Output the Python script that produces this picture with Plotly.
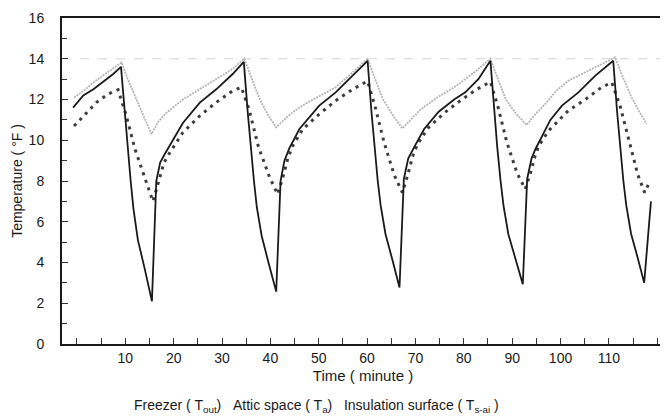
import plotly.graph_objects as go

# ---- data ----
series_names = ["Freezer ( T<sub>out</sub>)", "Attic space ( T<sub>a</sub>)", "Insulation surface ( T<sub>s-ai</sub> )"]

freezer_t = [-0.8, 0.5, 1.3, 3.4, 5.4, 7.5, 9.1,
             9.9, 10.5, 11.1, 11.7, 12.6, 14.0, 15.5,
             16.4, 17.2, 18.1, 19.9, 21.9, 25.4, 28.8, 32.2, 34.5,
             35.3, 35.9, 36.6, 37.2, 38.2, 39.6, 41.2,
             42.1, 42.9, 43.9, 46.0, 50.1, 53.5, 57.0, 60.1,
             60.9, 61.5, 62.2, 62.8, 63.8, 65.2, 66.7,
             67.6, 68.5, 69.6, 71.8, 74.8, 78.0, 80.3, 83.0, 85.5,
             86.3, 86.9, 87.6, 88.2, 89.2, 90.6, 92.2,
             93.1, 94.0, 94.8, 95.8, 97.9, 100.3, 103.7, 107.2, 110.9,
             111.7, 112.3, 113.0, 113.6, 114.6, 116.0, 117.3,
             118.0, 118.7]
freezer_v = [11.6, 12.0, 12.2, 12.5, 12.85, 13.25, 13.6,
             11.3, 9.6, 8.0, 6.6, 5.1, 3.7, 2.1,
             8.0, 8.9, 9.3, 10.05, 10.85, 11.85, 12.5, 13.25, 13.85,
             11.4, 9.7, 8.0, 6.7, 5.3, 4.0, 2.57,
             8.0, 9.0, 9.6, 10.55, 11.7, 12.35, 13.17, 13.9,
             11.4, 9.7, 8.0, 6.8, 5.4, 4.16, 2.77,
             8.1, 9.1, 9.6, 10.55, 11.4, 12.0, 12.35, 13.0, 13.9,
             11.4, 9.7, 8.0, 6.8, 5.4, 4.2, 2.93,
             8.1, 9.1, 9.56, 10.05, 11.0, 11.7, 12.35, 13.17, 13.9,
             11.4, 9.7, 8.0, 6.8, 5.4, 4.2, 3.0,
             5.0, 7.0]

attic_t = [-0.6, 1.65, 4.05, 6.45, 8.5,
           10.2, 12.0, 14.4, 15.7,
           16.8, 18.0, 19.2, 21.9, 25.4, 28.8, 32.2, 34.0,
           35.6, 37.5, 39.8, 41.5,
           42.6, 43.6, 44.6, 46.7, 50.1, 53.5, 57.0, 60.1,
           61.6, 63.5, 65.6, 67.3,
           68.4, 69.4, 70.4, 72.6, 76.0, 79.3, 82.7, 85.5,
           87.0, 88.9, 91.0, 92.7,
           93.8, 94.7, 95.5, 97.5, 101.6, 105.1, 108.5, 110.6,
           112.3, 114.2, 116.0, 117.4,
           118.5]
attic_v = [10.7, 11.28, 11.86, 12.27, 12.48,
           11.2, 9.56, 7.9, 7.0,
           7.9, 8.9, 9.4, 10.38, 11.2, 11.86, 12.43, 12.6,
           11.5, 9.7, 8.2, 7.35,
           8.2, 9.1, 9.72, 10.55, 11.28, 11.94, 12.5, 12.9,
           11.7, 9.9, 8.3, 7.43,
           8.3, 9.2, 9.8, 10.6, 11.35, 11.95, 12.5, 12.87,
           11.7, 9.9, 8.4, 7.6,
           8.4, 9.2, 9.72, 10.46, 11.45, 12.0, 12.6, 12.84,
           11.7, 9.9, 8.3, 7.43,
           8.0]

insul_t = [-0.6, 1.5, 3.4, 6.8, 9.2,
           10.5, 12.3, 14.0, 15.4,
           16.8, 18.5, 21.9, 25.4, 28.8, 32.2, 34.6,
           36.0, 37.8, 39.6, 41.2,
           42.8, 44.6, 47.3, 50.1, 53.5, 57.0, 60.1,
           61.5, 63.3, 65.4, 67.3,
           69.0, 71.0, 74.5, 78.0, 82.0, 85.5,
           86.9, 88.7, 90.8, 93.0,
           94.5, 96.8, 99.0, 101.6, 105.1, 108.2, 111.3,
           112.7, 114.5, 116.3, 117.8]
insul_v = [12.1, 12.45, 12.84, 13.4, 13.82,
           13.0, 12.0, 11.0, 10.3,
           10.9, 11.35, 12.0, 12.5, 13.0, 13.5, 14.0,
           13.1, 12.0, 11.2, 10.63,
           11.0, 11.37, 11.8, 12.18, 12.6, 13.33, 14.0,
           13.1, 12.0, 11.2, 10.58,
           11.0, 11.5, 12.1, 12.6, 13.3, 14.0,
           13.1, 12.0, 11.3, 10.75,
           11.2, 11.77, 12.4, 12.92, 13.33, 13.7, 14.07,
           13.2, 12.2, 11.4, 10.8]

x_tick_vals = [10, 20, 30, 40, 50, 60, 70, 80, 90, 100, 110, 120]
y_tick_vals = [0, 2, 4, 6, 8, 10, 12, 14, 16]

FONT = "Liberation Sans, Arial, sans-serif"

fig = go.Figure()
fig.add_trace(go.Scatter(x=insul_t, y=insul_v, mode="lines", name=series_names[2],
                         line=dict(color="#b4b4b4", width=1.8, dash="2px,1px")))
fig.add_trace(go.Scatter(x=attic_t, y=attic_v, mode="lines", name=series_names[1],
                         line=dict(color="#3c3c3c", width=3, dash="3px,5px")))
fig.add_trace(go.Scatter(x=freezer_t, y=freezer_v, mode="lines", name=series_names[0],
                         line=dict(color="#1a1a1a", width=1.8)))

fig.add_shape(type="line", xref="paper", x0=0, x1=1, yref="y", y0=14, y1=14,
              line=dict(color="#d4d4d4", width=1, dash="dash"), layer="below")

# the page body adds an 8px offset, so the figure is sized 8px smaller
fig.update_layout(
    width=660, height=411,
    margin=dict(l=54, r=2, t=10, b=75),
    paper_bgcolor="white", plot_bgcolor="white",
    showlegend=False,
    font=dict(family=FONT, color="#1a1a1a", size=14),
    xaxis=dict(range=[-3.1, 121.4], tickvals=x_tick_vals,
               ticks="inside", ticklen=6, tickwidth=1.2, tickcolor="#333",
               minor=dict(dtick=5, tick0=0, ticks="inside", ticklen=6, tickwidth=1.2, tickcolor="#333"),
               showgrid=False, zeroline=False,
               showline=True, linecolor="#1a1a1a", linewidth=2, mirror=True,
               tickfont=dict(size=14),
               title=dict(text="Time ( minute )", font=dict(size=15), standoff=6)),
    yaxis=dict(range=[0, 16], tickvals=y_tick_vals,
               ticks="inside", ticklen=6, tickwidth=1.2, tickcolor="#333",
               minor=dict(dtick=1, tick0=0, ticks="inside", ticklen=5, tickwidth=1.2, tickcolor="#333"),
               showgrid=False, zeroline=False,
               showline=True, linecolor="#1a1a1a", linewidth=2, mirror=True,
               tickfont=dict(size=14), ticklabelstandoff=13,
               title=dict(text="Temperature ( °F )", font=dict(size=14), standoff=3)),
)

legend_text = "&nbsp;&nbsp;&nbsp;".join(series_names)
fig.add_annotation(text=legend_text, xref="paper", yref="paper", x=0.422, y=-0.191,
                   xanchor="center", yanchor="middle", showarrow=False,
                   font=dict(size=14, family=FONT, color="#1a1a1a"))

fig.write_html("out.html")
